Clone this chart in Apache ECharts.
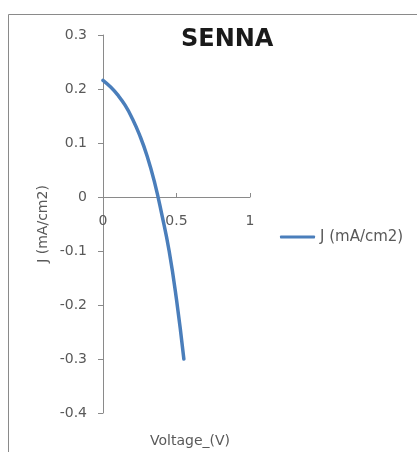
<!DOCTYPE html>
<html>
<head>
<meta charset="utf-8">
<script src="https://cdn.jsdelivr.net/npm/echarts@6/dist/echarts.min.js"></script>
<style>
  html, body { margin: 0; padding: 0; background: #fff; }
  #chart { width: 417px; height: 452px; }
</style>
</head>
<body>
<div id="chart"></div>
<script>
// J-V curve of the SENNA cell
const voltage = [0, 0.05, 0.10, 0.15, 0.20, 0.25, 0.30, 0.35, 0.40, 0.45, 0.50, 0.55];
const currentDensity = [0.216, 0.204, 0.189, 0.170, 0.145, 0.114, 0.076, 0.028, -0.032, -0.100, -0.190, -0.30];
const seriesName = 'J (mA/cm2)';
const xTicks = [0, 0.5, 1];
const yTicks = [-0.4, -0.3, -0.2, -0.1, 0, 0.1, 0.2, 0.3];

const axisGray = '#8a8a8a';
const labelGray = '#595959';
const font = 'DejaVu Sans';

const points = voltage.map((v, i) => [v, currentDensity[i]]);

const chart = echarts.init(document.getElementById('chart'), null, { renderer: 'canvas' });
chart.setOption({
  animation: false,
  backgroundColor: '#ffffff',
  title: {
    text: 'SENNA',
    left: 181,
    top: 28,
    padding: 0,
    textStyle: { fontFamily: font, fontWeight: 'bold', fontSize: 24, color: '#1a1a1a', lineHeight: 24 }
  },
  legend: {
    data: [seriesName],
    left: 280,
    top: 229,
    padding: 0,
    icon: 'roundRect',
    itemWidth: 35,
    itemHeight: 3,
    textStyle: { fontFamily: font, fontSize: 15, color: labelGray, lineHeight: 16 }
  },
  graphic: [{
    type: 'rect',
    shape: { x: 8.5, y: 14.5, width: 600, height: 600 },
    style: { fill: 'none', stroke: axisGray, lineWidth: 1 },
    silent: true,
    z: -10
  }],
  grid: { left: 103, top: 35, width: 147, bottom: 39, containLabel: false, outerBoundsMode: 'none' },
  xAxis: {
    type: 'value',
    min: xTicks[0],
    max: xTicks[xTicks.length - 1],
    interval: 0.5,
    name: 'Voltage_(V)',
    nameLocation: 'middle',
    nameGap: 21,
    nameTextStyle: { fontFamily: font, fontSize: 14, color: labelGray, padding: [0, 0, 0, 27] },
    axisLine: { onZero: true, lineStyle: { color: axisGray, width: 1 } },
    axisTick: { show: true, inside: true, length: 4, lineStyle: { color: axisGray } },
    axisLabel: { margin: -199, fontFamily: font, fontSize: 14, color: labelGray },
    splitLine: { show: false }
  },
  yAxis: {
    type: 'value',
    min: yTicks[0],
    max: yTicks[yTicks.length - 1],
    interval: 0.1,
    name: seriesName,
    nameLocation: 'middle',
    nameRotate: 90,
    nameGap: 53,
    nameTextStyle: { fontFamily: font, fontSize: 14, color: labelGray },
    axisLine: { show: true, onZero: false, lineStyle: { color: axisGray, width: 1 } },
    axisTick: { show: true, inside: false, length: 5, lineStyle: { color: axisGray } },
    axisLabel: {
      margin: 16,
      fontFamily: font,
      fontSize: 14,
      color: labelGray,
      formatter: v => String(Math.round(v * 10) / 10)
    },
    splitLine: { show: false }
  },
  series: [{
    name: seriesName,
    type: 'line',
    data: points,
    smooth: 0.5,
    showSymbol: false,
    symbol: 'none',
    color: '#4a7ebb',
    lineStyle: { color: '#4a7ebb', width: 3.5, cap: 'round' }
  }]
});
</script>
</body>
</html>
